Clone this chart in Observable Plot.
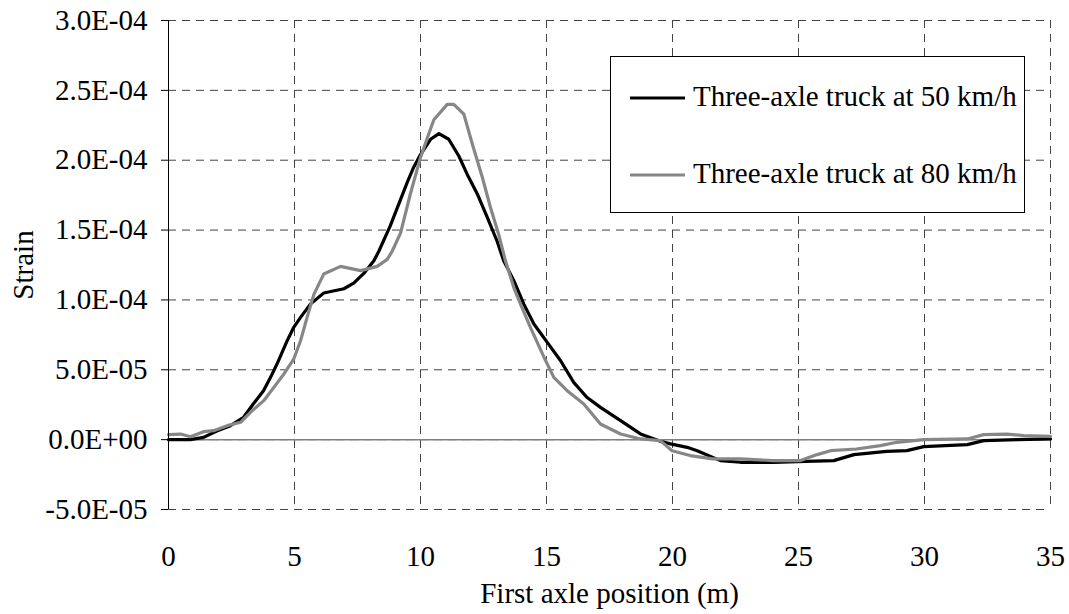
<!DOCTYPE html>
<html>
<head>
<meta charset="utf-8">
<script src="https://cdn.jsdelivr.net/npm/d3@7"></script>
<script src="https://cdn.jsdelivr.net/npm/@observablehq/plot@0.6"></script>
<style>
  html, body { margin: 0; padding: 0; background: #fff; }
  #wrap { position: relative; width: 1069px; height: 614px; }
  #wrap svg text { font-family: "Liberation Serif", "Times New Roman", Times, "DejaVu Serif", serif; }
  #legend { position: absolute; left: 0; top: 0; pointer-events: none; }
</style>
</head>
<body>
<div id="wrap"></div>
<script>
// Strain at the gauge against the position of the truck's first axle.
// Strain values are given in units of 1e-5.
const SCALE = 1e-5;

const pos50 = [0, 0.87, 1.39, 1.94, 2.46, 2.98, 3.37, 3.77, 4.05, 4.31, 4.71, 4.97, 5.24, 5.63, 6.16, 6.96, 7.35, 7.75, 8.15, 8.35, 8.8, 9.21, 9.47, 9.73, 10.0, 10.4, 10.73, 11.12, 11.52, 11.85, 12.25, 12.65, 13.04, 13.3, 13.7, 14.1, 14.5, 15.03, 15.56, 16.08, 16.6, 17.14, 17.94, 18.73, 19.52, 19.92, 20.58, 20.98, 21.9, 22.7, 24.0, 25.3, 26.4, 27.2, 28.5, 29.3, 29.97, 31.7, 32.35, 33.7, 35];
const strain50 = [0, 0, 0.16, 0.64, 1.0, 1.6, 2.57, 3.5, 4.46, 5.43, 7.08, 8.04, 8.75, 9.7, 10.5, 10.8, 11.2, 11.9, 12.8, 13.5, 15.3, 17.2, 18.4, 19.5, 20.4, 21.5, 21.9, 21.5, 20.3, 19.0, 17.6, 15.9, 14.2, 12.8, 11.4, 9.7, 8.28, 6.96, 5.65, 4.1, 3.03, 2.31, 1.36, 0.41, -0.12, -0.3, -0.55, -0.79, -1.5, -1.62, -1.62, -1.55, -1.5, -1.07, -0.84, -0.79, -0.5, -0.36, -0.07, 0, 0.05];

const pos80 = [0, 0.48, 0.87, 1.39, 1.79, 2.33, 2.86, 3.25, 3.78, 4.18, 4.58, 4.97, 5.24, 5.5, 5.77, 6.16, 6.83, 7.62, 8.28, 8.68, 8.88, 9.21, 9.6, 10.0, 10.33, 10.53, 11.06, 11.32, 11.72, 12.05, 12.45, 12.78, 13.1, 13.37, 13.7, 13.97, 14.37, 14.9, 15.29, 15.82, 16.48, 17.14, 17.94, 18.73, 19.52, 19.98, 20.7, 21.6, 22.7, 24.0, 25.08, 25.74, 26.27, 27.3, 28.25, 28.9, 29.97, 31.7, 32.35, 33.27, 33.94, 35];
const strain80 = [0.36, 0.4, 0.21, 0.57, 0.64, 1.0, 1.24, 1.95, 2.79, 3.74, 4.7, 5.77, 7.08, 8.75, 10.4, 11.85, 12.4, 12.1, 12.4, 12.9, 13.5, 14.8, 17.6, 20.2, 21.9, 22.9, 24.0, 24.0, 23.3, 21.2, 18.8, 16.6, 14.7, 12.8, 10.9, 9.7, 8.0, 5.9, 4.46, 3.5, 2.55, 1.12, 0.4, 0.05, -0.07, -0.79, -1.14, -1.38, -1.38, -1.5, -1.5, -1.07, -0.79, -0.67, -0.43, -0.19, 0, 0.05, 0.36, 0.4, 0.29, 0.24];

const seriesNames = ["Three-axle truck at 50 km/h", "Three-axle truck at 80 km/h"];
const seriesColors = ["#000000", "#878787"];

const xTicks = [0, 5, 10, 15, 20, 25, 30, 35];
const yTicks = [-5e-5, 0, 5e-5, 1e-4, 1.5e-4, 2e-4, 2.5e-4, 3e-4];

const xLabel = "First axle position (m)";
const yLabel = "Strain";

const FONT = '"Liberation Serif", "Times New Roman", Times, "DejaVu Serif", serif';
const FS = 29;

// Spreadsheet-style scientific labels: 3.0E-04, 0.0E+00, -5.0E-05
function sci(d) {
  if (d === 0) return "0.0E+00";
  const e = Math.floor(Math.log10(Math.abs(d)) + 1e-9);
  const m = d / Math.pow(10, e);
  const sign = e < 0 ? "-" : "+";
  return m.toFixed(1) + "E" + sign + String(Math.abs(e)).padStart(2, "0");
}

const toRows = (xs, vs, name) => xs.map((x, i) => ({x, y: vs[i] * SCALE, name}));
const rows50 = toRows(pos50, strain50, seriesNames[0]);
const rows80 = toRows(pos80, strain80, seriesNames[1]);

const gridStyle = {stroke: "#444", strokeOpacity: 1, strokeWidth: 1, strokeDasharray: "8,6"};

const chart = Plot.plot({
  width: 1069,
  height: 614,
  marginLeft: 168,
  marginRight: 19,
  marginTop: 20,
  marginBottom: 105,
  style: {fontFamily: FONT, fontSize: FS + "px", background: "#fff", color: "#000"},
  x: {domain: [0, 35]},
  y: {domain: [-5e-5, 3e-4]},
  marks: [
    Plot.gridX(xTicks, gridStyle),
    Plot.gridY(yTicks, gridStyle),
    Plot.ruleY([0], {stroke: "#808080", strokeWidth: 1.5}),
    Plot.line(rows50, {x: "x", y: "y", stroke: seriesColors[0], strokeWidth: 3.2, strokeLinejoin: "round"}),
    Plot.line(rows80, {x: "x", y: "y", stroke: seriesColors[1], strokeWidth: 3.2, strokeLinejoin: "round"}),
    Plot.ruleX([0], {stroke: "#000", strokeWidth: 1}),
    Plot.axisY(yTicks, {tickSize: 7, tickPadding: 14, tickFormat: sci, label: null, fontSize: FS, stroke: "#000"}),
    Plot.axisX(xTicks, {tickSize: 0, tickPadding: 36, tickFormat: d => String(d), label: null, fontSize: FS}),
    Plot.text([yLabel], {frameAnchor: "left", dx: -145, rotate: -90, textAnchor: "middle", lineAnchor: "middle", fontSize: FS, text: d => d}),
    Plot.text([xLabel], {frameAnchor: "bottom", dy: 84, textAnchor: "middle", lineAnchor: "middle", fontSize: FS, text: d => d})
  ]
});

const wrap = document.getElementById("wrap");
wrap.appendChild(chart);

// Legend box, drawn on top of the grid
const legend = d3.select(wrap).append("svg")
  .attr("id", "legend")
  .attr("width", 1069)
  .attr("height", 614);

legend.append("rect")
  .attr("x", 610.5).attr("y", 56.5)
  .attr("width", 414).attr("height", 156)
  .attr("fill", "#fff").attr("stroke", "#000").attr("stroke-width", 1);

const rowY = [98, 175];
seriesNames.forEach((name, i) => {
  legend.append("line")
    .attr("x1", 630).attr("x2", 685)
    .attr("y1", rowY[i]).attr("y2", rowY[i])
    .attr("stroke", seriesColors[i]).attr("stroke-width", 3.2);
  legend.append("text")
    .attr("x", 693).attr("y", rowY[i] + 8)
    .attr("font-size", FS)
    .attr("fill", "#000")
    .text(name);
});
</script>
</body>
</html>
